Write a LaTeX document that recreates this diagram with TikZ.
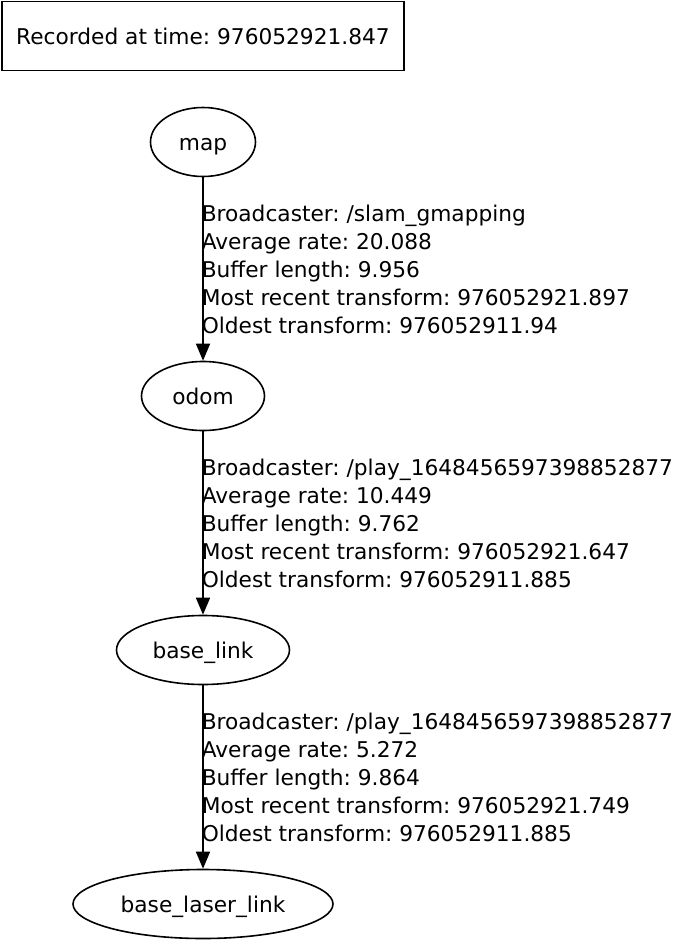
\documentclass[tikz,border=0pt]{standalone}
\usepackage{fontspec}
\setmainfont{DejaVu Sans}
\frenchspacing
\usetikzlibrary{shapes.geometric,arrows.meta}

\begin{document}
\begin{tikzpicture}
  [x=1pt,y=-1pt,line width=1.6pt,
   every node/.style={font=\fontsize{21.7}{28}\selectfont},
   frame/.style={draw,rectangle,minimum width=402pt,minimum height=69pt,inner sep=0pt,text height=21pt,text depth=5pt},
   tfnode/.style={draw,ellipse,minimum height=69pt,inner sep=0pt,text height=21pt,text depth=5pt},
   info/.style={anchor=west,align=left,inner sep=0pt,xshift=-2pt},
   tf/.style={-{Triangle[length=17pt,width=14pt]}}]
  \useasboundingbox (0,0) rectangle (677,940);

  \node[frame] (stamp) at (203,36) {Recorded at time: 976052921.847};

  \node[tfnode,minimum width=105pt] (map) at (203,142) {map};
  \node[tfnode,minimum width=123pt] (odom) at (203,396) {odom};
  \node[tfnode,minimum width=173pt] (base) at (203,650) {base\_link};
  \node[tfnode,minimum width=260pt] (laser) at (203,904) {base\_laser\_link};

  \draw[tf] (map) -- node[info] {Broadcaster: /slam\_gmapping\\Average rate: 20.088\\Buffer length: 9.956\\Most recent transform: 976052921.897\\Oldest transform: 976052911.94} (odom);
  \draw[tf] (odom) -- node[info] {Broadcaster: /play\_1648456597398852877\\Average rate: 10.449\\Buffer length: 9.762\\Most recent transform: 976052921.647\\Oldest transform: 976052911.885} (base);
  \draw[tf] (base) -- node[info] {Broadcaster: /play\_1648456597398852877\\Average rate: 5.272\\Buffer length: 9.864\\Most recent transform: 976052921.749\\Oldest transform: 976052911.885} (laser);

\end{tikzpicture}
\end{document}
